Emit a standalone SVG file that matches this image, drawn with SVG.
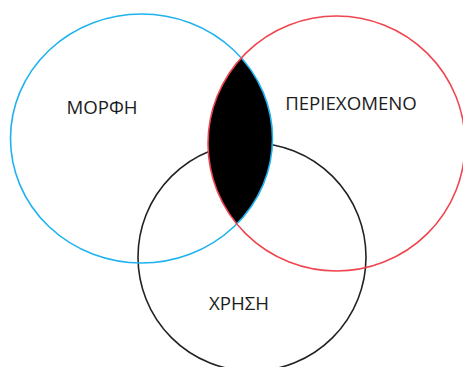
<svg xmlns="http://www.w3.org/2000/svg" width="463" height="367" viewBox="0 0 463 367">
  <style>
    .ring { fill: none; stroke-width: 1.6; }
    .blue { stroke: #1fb2ef; }
    .red { stroke: #f0454f; }
    .black { stroke: #222; }
    .label { font-family: "Open Sans", "Noto Sans", "DejaVu Sans", sans-serif; font-size: 18.67px; fill: #1c1c1c; text-anchor: middle; }
  </style>
  <defs>
    <clipPath id="blueClip">
      <ellipse cx="141.5" cy="138.5" rx="131" ry="124.5"/>
    </clipPath>
  </defs>
  <rect width="463" height="367" fill="#fff"/>
  <g id="xrhsh">
    <circle class="ring black" cx="252" cy="257" r="114"/>
    <text class="label" x="239" y="310">ΧΡΗΣΗ</text>
  </g>
  <g id="lens">
    <ellipse cx="336.5" cy="143.5" rx="128.5" ry="127.5" fill="#000" clip-path="url(#blueClip)"/>
  </g>
  <g id="morfh">
    <ellipse class="ring blue" cx="141.5" cy="138.5" rx="131" ry="124.5"/>
    <text class="label" x="102" y="114">ΜΟΡΦΗ</text>
  </g>
  <g id="periexomeno">
    <ellipse class="ring red" cx="336.5" cy="143.5" rx="128.5" ry="127.5"/>
    <text class="label" x="351" y="110">ΠΕΡΙΕΧΟΜΕΝΟ</text>
  </g>
  <g id="connectors"></g>
</svg>
